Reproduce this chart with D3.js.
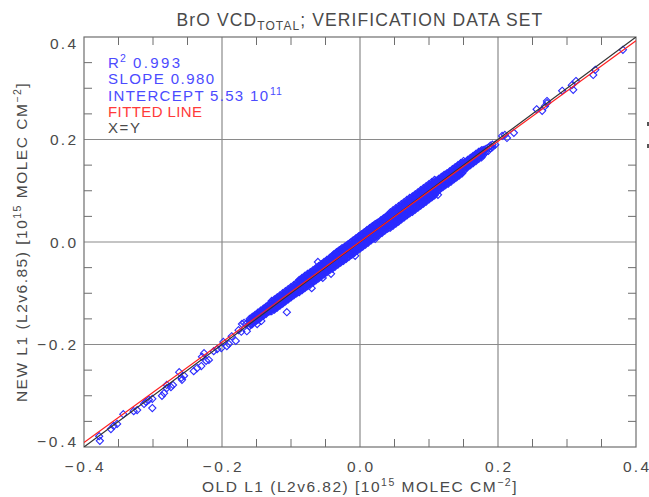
<!DOCTYPE html>
<html>
<head>
<meta charset="utf-8">
<script src="https://cdn.jsdelivr.net/npm/d3@7"></script>
<style>
  html, body { margin: 0; padding: 0; background: #fff; }
  svg { display: block; }
  text { font-family: "Liberation Sans", Arial, Helvetica, sans-serif; }
</style>
</head>
<body>
<div id="chart"></div>
<script>
// ---- data -------------------------------------------------------------
// BrO total vertical column, old processing (x) vs new processing (y), 1e15 molec/cm2
const tickValues = [-0.4, -0.2, 0.0, 0.2, 0.4];
const tickLabels = ["\u22120.4", "\u22120.2", "0.0", "0.2", "0.4"];
const minorTicks = [-0.35, -0.3, -0.25, -0.15, -0.1, -0.05, 0.05, 0.1, 0.15, 0.25, 0.3, 0.35];

const fitStats = { r2: 0.993, slope: 0.980, intercept: 5.53e11 };

// sparse low end: [old, new] in 1e15 molec/cm2
const lowPoints = [
  [-0.378, -0.379], [-0.377, -0.388], [-0.361, -0.365], [-0.357, -0.359], [-0.352, -0.355],
  [-0.343, -0.336], [-0.328, -0.330], [-0.323, -0.328], [-0.313, -0.316], [-0.310, -0.312],
  [-0.306, -0.308], [-0.301, -0.306], [-0.301, -0.324], [-0.287, -0.300], [-0.284, -0.295],
  [-0.280, -0.285], [-0.280, -0.279], [-0.274, -0.283], [-0.271, -0.279], [-0.262, -0.254],
  [-0.259, -0.265], [-0.258, -0.269], [-0.255, -0.261], [-0.241, -0.252], [-0.236, -0.246],
  [-0.230, -0.242], [-0.226, -0.217], [-0.223, -0.232], [-0.219, -0.230], [-0.229, -0.224],
  [-0.212, -0.213], [-0.207, -0.209], [-0.201, -0.207], [-0.198, -0.195], [-0.193, -0.203],
  [-0.190, -0.199], [-0.186, -0.184], [-0.180, -0.193], [-0.176, -0.172], [-0.172, -0.175],
  [-0.171, -0.160], [-0.168, -0.158], [-0.165, -0.160], [-0.164, -0.174], [-0.158, -0.161],
  [-0.149, -0.160], [-0.143, -0.154]
];

// dense core, in 1e12 molec/cm2: each row is [old, new, new, ...]
const bandColumns = [
  [-160, -164, -159, -154, -150], [-158, -160, -155, -150], [-156, -160, -155, -151, -146],
  [-154, -156, -151, -146], [-152, -156, -151, -146, -142], [-150, -152, -148, -142],
  [-148, -152, -147, -142, -138], [-146, -148, -143, -138], [-144, -148, -143, -138, -134],
  [-142, -144, -139, -135], [-140, -144, -139, -134, -130], [-138, -140, -135, -130],
  [-136, -140, -135, -130, -126], [-134, -136, -131, -126], [-132, -136, -131, -126, -122],
  [-130, -135, -130, -125, -120], [-128, -135, -130, -125, -120, -115],
  [-126, -131, -126, -121, -116], [-124, -132, -127, -122, -117, -112],
  [-122, -128, -123, -118, -113], [-120, -128, -123, -118, -113, -108],
  [-118, -124, -119, -114, -109], [-116, -124, -119, -114, -109, -104],
  [-114, -120, -115, -110, -105], [-112, -120, -115, -110, -105, -100],
  [-110, -116, -111, -106, -101], [-108, -116, -111, -106, -101, -96],
  [-106, -112, -107, -102, -97], [-104, -112, -107, -102, -97, -92],
  [-102, -108, -103, -98, -93], [-100, -108, -103, -98, -93, -88],
  [-98, -104, -99, -94, -89], [-96, -104, -99, -94, -89, -84],
  [-94, -100, -95, -90, -85], [-92, -100, -95, -90, -85, -80],
  [-90, -98, -93, -88, -83, -78], [-88, -98, -93, -88, -83, -78, -74],
  [-86, -94, -89, -84, -79, -74], [-84, -94, -89, -84, -79, -74, -70],
  [-82, -90, -85, -80, -75, -70], [-80, -90, -85, -80, -75, -70, -66],
  [-78, -86, -81, -76, -71, -66], [-76, -86, -81, -76, -71, -66, -62],
  [-74, -83, -78, -73, -68, -63], [-72, -83, -78, -73, -68, -63, -59],
  [-70, -79, -74, -69, -64, -59], [-68, -79, -74, -69, -64, -59, -55],
  [-66, -75, -70, -65, -60, -55], [-64, -75, -70, -65, -60, -55, -51],
  [-62, -71, -66, -61, -56, -51], [-60, -71, -66, -61, -56, -51, -47],
  [-58, -67, -62, -57, -52, -47], [-56, -67, -62, -57, -52, -47, -43],
  [-54, -63, -58, -53, -48, -43], [-52, -63, -58, -53, -48, -43, -39],
  [-50, -59, -54, -49, -44, -39], [-48, -59, -54, -49, -44, -39, -35],
  [-46, -55, -50, -45, -40, -35], [-44, -55, -50, -45, -40, -35, -31],
  [-42, -51, -46, -41, -36, -31],
  [-40, -52, -47, -42, -37, -32, -27], [-38, -48, -43, -38, -33, -28, -24],
  [-36, -48, -43, -38, -33, -28, -23], [-34, -44, -39, -34, -29, -24, -20],
  [-32, -44, -39, -34, -29, -24, -19], [-30, -40, -35, -30, -25, -20, -16],
  [-28, -40, -35, -30, -25, -20, -15], [-26, -36, -31, -26, -21, -16, -12],
  [-24, -37, -32, -27, -22, -17, -12], [-22, -33, -28, -23, -18, -13, -9],
  [-20, -33, -28, -23, -18, -13, -8], [-18, -29, -24, -19, -14, -9, -5],
  [-16, -29, -24, -19, -14, -9, -4], [-14, -25, -20, -15, -10, -5, -1],
  [-12, -25, -20, -15, -10, -5, 0], [-10, -21, -16, -11, -6, -1, 3],
  [-8, -21, -16, -11, -6, -1, 4], [-6, -17, -12, -7, -2, 3, 7],
  [-4, -17, -12, -7, -2, 3, 8], [-2, -13, -8, -3, 2, 7, 11],
  [0, -13, -8, -3, 2, 7, 12], [2, -9, -4, 1, 6, 11, 15],
  [4, -9, -4, 1, 6, 11, 16], [6, -5, 0, 5, 10, 15, 19],
  [8, -5, 0, 5, 10, 15, 20], [10, -1, 4, 9, 14, 19, 23],
  [12, -1, 4, 9, 14, 19, 24], [14, 3, 8, 13, 18, 23, 27],
  [16, 3, 8, 13, 18, 23, 28], [18, 7, 12, 17, 22, 27, 31],
  [20, 7, 12, 17, 22, 27, 32], [22, 11, 16, 21, 26, 31, 35],
  [24, 11, 16, 21, 26, 31, 36], [26, 14, 19, 24, 29, 34, 38],
  [28, 14, 19, 24, 29, 34, 39], [30, 18, 23, 28, 33, 38, 42],
  [32, 18, 23, 28, 33, 38, 43], [34, 22, 27, 32, 37, 42, 46],
  [36, 22, 27, 32, 37, 42, 47], [38, 26, 31, 36, 41, 46, 50],
  [40, 26, 31, 36, 41, 46, 51],
  [42, 28, 33, 38, 43, 48, 53], [44, 28, 33, 38, 43, 48, 53, 58],
  [46, 32, 37, 42, 47, 52, 57], [48, 32, 37, 42, 47, 52, 57, 62],
  [50, 36, 41, 46, 51, 56, 61], [52, 36, 41, 46, 51, 56, 61, 66],
  [54, 40, 45, 50, 55, 60, 65], [56, 40, 45, 50, 55, 60, 65, 70],
  [58, 44, 49, 54, 59, 64, 69], [60, 44, 49, 54, 59, 64, 69, 74],
  [62, 48, 53, 58, 63, 68, 73], [64, 48, 53, 58, 63, 68, 73, 78],
  [66, 52, 57, 62, 67, 72, 77], [68, 52, 57, 62, 67, 72, 77, 82],
  [70, 56, 61, 66, 71, 76, 81], [72, 56, 61, 66, 71, 76, 81, 86],
  [74, 60, 65, 70, 75, 80, 85], [76, 59, 64, 69, 74, 79, 84, 89],
  [78, 63, 68, 73, 78, 83, 88], [80, 63, 68, 73, 78, 83, 88, 93],
  [82, 67, 72, 77, 82, 87, 92], [84, 67, 72, 77, 82, 87, 92, 97],
  [86, 71, 76, 81, 86, 91, 96], [88, 71, 76, 81, 86, 91, 96, 101],
  [90, 75, 80, 85, 90, 95, 100], [92, 75, 80, 85, 90, 95, 100, 105],
  [94, 79, 84, 89, 94, 99, 104], [96, 79, 84, 89, 94, 99, 104, 109],
  [98, 83, 88, 93, 98, 103, 108], [100, 83, 88, 93, 98, 103, 108, 113],
  [102, 87, 92, 97, 102, 107, 112], [104, 87, 92, 97, 102, 107, 112, 117],
  [106, 91, 96, 101, 106, 111, 116], [108, 91, 96, 101, 106, 111, 116, 121],
  [110, 95, 100, 105, 110, 115, 120],
  [112, 99, 104, 109, 114, 119], [114, 103, 108, 113, 118, 123],
  [116, 103, 108, 113, 118, 123], [118, 107, 112, 117, 122, 127],
  [120, 107, 112, 117, 122, 127], [122, 111, 116, 121, 126, 131],
  [124, 111, 116, 121, 126, 131], [126, 114, 119, 124, 129, 134],
  [128, 114, 119, 124, 129, 134], [130, 118, 123, 128, 133, 138],
  [132, 118, 123, 128, 133, 138], [134, 122, 127, 132, 137, 142],
  [136, 122, 127, 132, 137, 142], [138, 126, 131, 136, 141, 146],
  [140, 126, 131, 136, 141, 146], [142, 130, 135, 140, 145, 150],
  [144, 130, 135, 140, 145, 150], [146, 134, 139, 144, 149, 154],
  [148, 134, 139, 144, 149, 154], [150, 138, 143, 148, 153, 158],
  [152, 142, 147, 152, 156], [154, 146, 151, 156], [156, 146, 151, 156, 160],
  [158, 150, 155, 160], [160, 150, 155, 160, 164], [162, 154, 159, 164],
  [164, 154, 159, 164, 168], [166, 158, 163, 168], [168, 158, 163, 168, 172],
  [170, 162, 167, 172], [172, 162, 167, 172, 176], [174, 166, 171, 176],
  [176, 165, 170, 175, 179], [178, 169, 174, 179],
  [180, 172, 177, 180], [183, 177, 182], [186, 178, 184], [189, 183, 188],
  [192, 185, 190], [196, 190]
];

// points lying off the main band: [old, new] in 1e15 molec/cm2
const offBandPoints = [
  [-0.061, -0.039], [-0.106, -0.137], [-0.070, -0.090], [-0.042, -0.062], [-0.054, -0.070],
  [0.113, 0.092], [-0.007, -0.027], [-0.026, -0.016], [0.022, 0.006]
];

// sparse high end: [old, new] in 1e15 molec/cm2
const highPoints = [
  [0.206, 0.207], [0.213, 0.203], [0.223, 0.213], [0.210, 0.209],
  [0.256, 0.259], [0.268, 0.265], [0.271, 0.271], [0.264, 0.256], [0.271, 0.275],
  [0.293, 0.295], [0.307, 0.306], [0.313, 0.314], [0.309, 0.297],
  [0.341, 0.336], [0.338, 0.326], [0.381, 0.375]
];

// ---- layout -----------------------------------------------------------
const W = 649, H = 497;
const plot = { left: 84, right: 636, top: 37, bottom: 447 };
const domain = [-0.4, 0.4];

const x = d3.scaleLinear().domain(domain).range([plot.left, plot.right]);
const y = d3.scaleLinear().domain(domain).range([plot.bottom, plot.top]);

const svg = d3.select("#chart").append("svg")
  .attr("width", W).attr("height", H);

svg.append("defs").append("clipPath").attr("id", "plot-clip")
  .append("rect")
  .attr("x", plot.left).attr("y", plot.top)
  .attr("width", plot.right - plot.left).attr("height", plot.bottom - plot.top);

const axisColor = "#6e6e6e";
const textColor = "#4a4a4a";

// grid lines at the inner major ticks
const gridVals = [-0.2, 0.0, 0.2];
svg.append("g").selectAll("line").data(gridVals).join("line")
  .attr("x1", d => x(d)).attr("x2", d => x(d))
  .attr("y1", plot.top).attr("y2", plot.bottom)
  .attr("stroke", "#8a8a8a").attr("stroke-width", 1.2);
svg.append("g").selectAll("line").data(gridVals).join("line")
  .attr("y1", d => y(d)).attr("y2", d => y(d))
  .attr("x1", plot.left).attr("x2", plot.right)
  .attr("stroke", "#8a8a8a").attr("stroke-width", 1.2);

// minor ticks pointing inward on all four sides
const tickLen = 8;
const axes = svg.append("g").attr("stroke", axisColor).attr("stroke-width", 1);
axes.append("g").selectAll("line").data(minorTicks).join("line")
  .attr("x1", d => x(d)).attr("x2", d => x(d))
  .attr("y1", plot.bottom).attr("y2", plot.bottom - tickLen);
axes.append("g").selectAll("line").data(minorTicks).join("line")
  .attr("x1", d => x(d)).attr("x2", d => x(d))
  .attr("y1", plot.top).attr("y2", plot.top + tickLen);
axes.append("g").selectAll("line").data(minorTicks).join("line")
  .attr("y1", d => y(d)).attr("y2", d => y(d))
  .attr("x1", plot.left).attr("x2", plot.left + tickLen);
axes.append("g").selectAll("line").data(minorTicks).join("line")
  .attr("y1", d => y(d)).attr("y2", d => y(d))
  .attr("x1", plot.right).attr("x2", plot.right - tickLen);

// frame
svg.append("rect")
  .attr("x", plot.left).attr("y", plot.top)
  .attr("width", plot.right - plot.left).attr("height", plot.bottom - plot.top)
  .attr("fill", "none").attr("stroke", axisColor).attr("stroke-width", 1.2);

// scatter of diamonds
const allPoints = [];
lowPoints.forEach(p => allPoints.push(p));
bandColumns.forEach(col => col.slice(1).forEach(v => allPoints.push([col[0] / 1000, v / 1000])));
offBandPoints.forEach(p => allPoints.push(p));
highPoints.forEach(p => allPoints.push(p));

const r = 3.6;
const diamond = `M0,${-r}L${r},0L0,${r}L${-r},0Z`;
svg.append("g").attr("clip-path", "url(#plot-clip)")
  .selectAll("path").data(allPoints).join("path")
  .attr("d", diamond)
  .attr("transform", d => `translate(${x(d[0])},${y(d[1])})`)
  .attr("fill", "none")
  .attr("stroke", "#2a2aff")
  .attr("stroke-width", 1.1);

// reference lines: one-to-one and fitted regression
const lineGen = d3.line().x(d => x(d[0])).y(d => y(d[1]));
const fitB = fitStats.intercept / 1e15;
const lines = svg.append("g").attr("clip-path", "url(#plot-clip)");
lines.append("path")
  .attr("d", lineGen(domain.map(v => [v, v])))
  .attr("stroke", "#333").attr("stroke-width", 1.2).attr("fill", "none");
lines.append("path")
  .attr("d", lineGen(domain.map(v => [v, fitStats.slope * v + fitB])))
  .attr("stroke", "#ff2020").attr("stroke-width", 1.2).attr("fill", "none");

// tick labels
const fs = 15.5;
const labelWidth = s => (s.length === 4 ? 39 : 26);
svg.append("g").selectAll("text").data(tickValues).join("text")
  .attr("x", d => x(d))
  .attr("y", plot.bottom + 25)
  .attr("text-anchor", "middle")
  .attr("font-size", fs).attr("fill", textColor)
  .attr("textLength", (d, i) => labelWidth(tickLabels[i]))
  .attr("lengthAdjust", "spacing")
  .text((d, i) => tickLabels[i]);

const yLabelShift = v => (v === 0.4 ? 6 : v === -0.4 ? -6 : 0);
svg.append("g").selectAll("text").data(tickValues).join("text")
  .attr("x", plot.left - 8)
  .attr("y", d => y(d) + yLabelShift(d) + 5.5)
  .attr("text-anchor", "end")
  .attr("font-size", fs).attr("fill", textColor)
  .attr("textLength", (d, i) => labelWidth(tickLabels[i]))
  .attr("lengthAdjust", "spacing")
  .text((d, i) => tickLabels[i]);

// title
const title = svg.append("text")
  .attr("x", (plot.left + plot.right) / 2).attr("y", 26)
  .attr("text-anchor", "middle")
  .attr("font-size", 17.5).attr("letter-spacing", 1.1).attr("fill", textColor);
title.append("tspan").text("BrO VCD");
title.append("tspan").attr("font-size", 12).attr("dy", 4).text("TOTAL");
title.append("tspan").attr("dy", -4).text("; VERIFICATION DATA SET");

// axis titles
function unitLabel(sel, lead) {
  sel.append("tspan").text(lead + " [10");
  sel.append("tspan").attr("font-size", 10.5).attr("dy", -6).text("15");
  sel.append("tspan").attr("dy", 6).text(" MOLEC CM");
  sel.append("tspan").attr("font-size", 10.5).attr("dy", -6).text("\u22122");
  sel.append("tspan").attr("dy", 6).text("]");
}
const xt = svg.append("text")
  .attr("x", (plot.left + plot.right) / 2).attr("y", 492)
  .attr("text-anchor", "middle")
  .attr("font-size", 15.5).attr("letter-spacing", 1.5).attr("fill", textColor);
unitLabel(xt, "OLD L1 (L2v6.82)");

const yt = svg.append("text")
  .attr("transform", `translate(27,${(plot.top + plot.bottom) / 2}) rotate(-90)`)
  .attr("text-anchor", "middle")
  .attr("font-size", 15.5).attr("letter-spacing", 1.5).attr("fill", textColor);
unitLabel(yt, "NEW L1 (L2v6.85)");

// statistics legend
const legX = 108, legY0 = 68, legDy = 16.3;
const blue = "#4b4bff";
const legend = svg.append("g").attr("font-size", 15);
legend.append("text").attr("x", legX).attr("y", legY0).attr("fill", blue).text("R");
legend.append("text").attr("x", legX + 12).attr("y", legY0 - 6).attr("fill", blue)
  .attr("font-size", 10.5).text("2");
legend.append("text").attr("x", legX + 25).attr("y", legY0).attr("fill", blue)
  .attr("textLength", 47).attr("lengthAdjust", "spacing")
  .text(fitStats.r2.toFixed(3));
legend.append("text").attr("x", legX).attr("y", legY0 + legDy).attr("fill", blue)
  .attr("textLength", 106).attr("lengthAdjust", "spacing")
  .text("SLOPE " + fitStats.slope.toFixed(3));
legend.append("text").attr("x", legX).attr("y", legY0 + 2 * legDy).attr("fill", blue)
  .attr("textLength", 160).attr("lengthAdjust", "spacing")
  .text("INTERCEPT " + (fitStats.intercept / 1e11).toFixed(2) + " 10");
legend.append("text").attr("x", legX + 162).attr("y", legY0 + 2 * legDy - 6).attr("fill", blue)
  .attr("font-size", 10.5).attr("letter-spacing", 1).text("11");
legend.append("text").attr("x", legX).attr("y", legY0 + 3 * legDy).attr("fill", "#ff3a3a")
  .attr("textLength", 94).attr("lengthAdjust", "spacing")
  .text("FITTED LINE");
legend.append("text").attr("x", legX).attr("y", legY0 + 4 * legDy).attr("fill", textColor)
  .attr("textLength", 32).attr("lengthAdjust", "spacing")
  .text("X=Y");

// two short dark strokes just past the right frame
svg.append("g").attr("fill", "#555").selectAll("rect").data([124, 146]).join("rect")
  .attr("x", 647).attr("y", d => d - 2).attr("width", 2).attr("height", 4);
</script>
</body>
</html>
